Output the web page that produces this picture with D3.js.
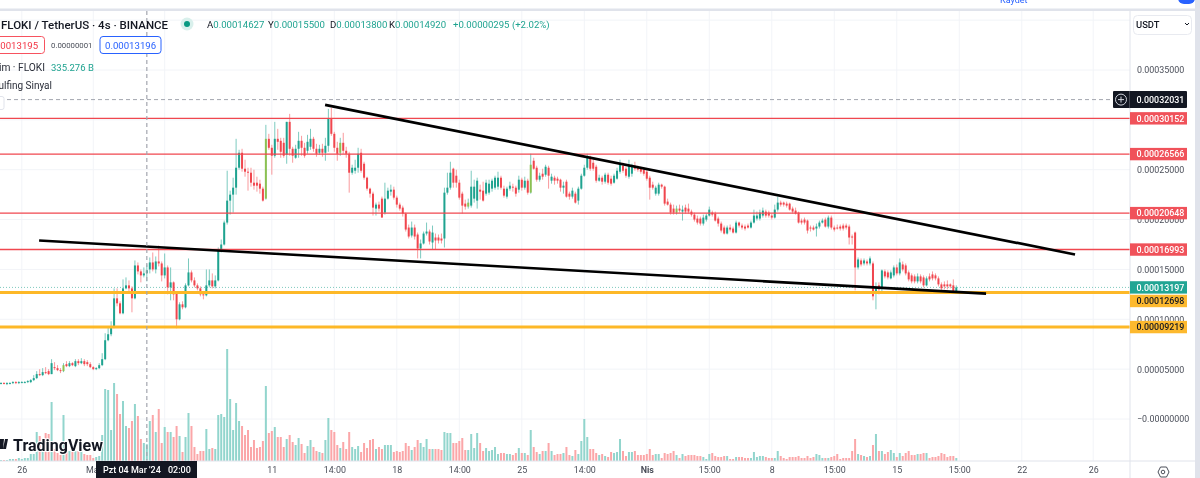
<!DOCTYPE html>
<html>
<head>
<meta charset="utf-8">
<script src="https://cdn.jsdelivr.net/npm/d3@7"></script>
<style>
  html, body { margin: 0; padding: 0; background: #fff; overflow: hidden; }
  svg { display: block; font-family: Roboto, sans-serif; filter: blur(0.3px); }
  .tick text { fill: #4a4e59; font-size: 8.9px; font-family: Roboto, sans-serif; }
  .domain { display: none; }
</style>
</head>
<body>
<script>
// prices are in units of 0.000001, volumes in billions of FLOKI
var opens = [
  36,36,35,36,36,37,36,37,37,37, 37,39,41,45,44,47,48,45,52,51, 49,48,55,53,56,53,58,56,58,57, 55,52,50,51,54,60,79,85,92,121,
  116,106,131,134,131,121,154,148,144,146.27, 150,157,150,158,156,144,152,132,137,126, 100,115,112,134,147,139,134,131,125,124, 134,139,133,139,169,175,197,219,225,232,
  252,267,251,248,247,237,237,236,231,221, 281,272,264,281,279,277,265,298,271,262, 271,279,272,269,273,281,271,267,271,267, 274,301,286,272,267,277,269,266,247,249,
  252,267,256,242,231,226,211,215,221,207, 221,228,230,222,215,212,206,192,184,192, 185,171,176,186,188,177,182,182,181,181, 227,232,251,244,237,226,216,213,214,221,
  219,230,229,226,227,231,232,233,242,231, 223,231,233,232,230,240,232,239,227,259, 252,240,246,245,252,239,242,241,240,232, 238,226,223,226,219,231,244,252,263,257,
  253,239,242,238,245,241,237,241,248,254, 251,243,246,254,252,251,250,248,242,235, 226,226,235,233,218,215,211,207,211,208, 212,211,208,205,201,201,196,200,204,207,
  206,201,196,192,186,192,191,187,197,194, 193,194,192,197,201,201,204,208,207,204, 202,210,217,217,216,216,211,209,207,199, 200,199,192,192,191,193,197,200,193,202,
  192,192,193,194,194,193,183,187,152,159, 156,158,156,156,128,134,132,148,147,141, 144,152,146,155,154,147,144,143,138,143, 142,134,143,145,144,141,135,135,135,135,134,128
]
var closes = [
  36,35,36,36,37,36,37,37,37,38, 39,41,45,44,47,46,45,56,51,49, 48,54,53,56,54,58,56,58,55,55, 52,50,51,54,60,79,85,92,121,116,
  106,131,134,131,121,154,148,144,146,149.2, 157,150,158,156,144,152,132,137,125,100, 115,112,134,147,139,134,131,125,124,134, 139,133,139,169,175,197,219,225,232,252,
  267,251,248,247,237,234,234,231,219,281, 272,264,281,278,268,264,298,271,264,271, 279,272,264,278,281,271,266,271,267,274, 301,286,272,266,277,269,266,247,252,252,
  266,249,242,231,226,212,215,211,202,221, 229,230,222,215,211,206,190,183,192,183, 171,176,186,188,178,187,179,179,179,227, 232,247,237,237,222,214,213,217,233,233,
  239,228,219,237,236,239,242,242,232,224, 231,234,232,226,240,232,239,227,255,251, 240,244,243,253,244,243,239,239,232,234, 223,223,229,217,231,244,252,262,251,251,
  239,242,238,245,237,236,244,249,256,249, 244,254,254,251,250,248,246,241,232,232, 232,235,233,216,215,207,207,211,209,210, 208,208,205,200,197,196,202,204,210,205,
  199,196,189,186,192,190,187,197,194,192, 191,192,197,204,204,207,209,204,204,202, 210,217,215,215,214,210,208,206,197,197, 197,189,191,190,193,197,199,193,202,192,
  190,191,191,191,192,182,182,152,160,155, 159,156,161,123,132,130,149,143,142,147, 152,146,157,150,146,140,138,138,143,138, 134,141,140,141,141,135,131,133,133,133,128,131.97
]
var highs = [
  37,37,37,37,38,38,38,38,38,39, 40,44,48,50,51,52,50,60,57,54, 51,56,58,58,57,60,60,61,60,59, 57,53,52,56,66,86,92,98,131,131,
  118,140,142,139,133,159,157,150,152,155, 162,167,163,174,158,166,154,152,138,127, 117,118,136,161,149,142,136,133,127,150, 150,146,144,172,180,199,249,229,242,281,
  270,271,260,252,252,250,243,240,233,295, 286,275,298,291,282,282,298,306,273,275, 288,284,277,285,291,283,276,275,276,282, 311,312,288,278,282,287,273,268,255,260,
  272,271,258,243,232,228,217,218,223,237, 232,235,233,224,217,214,207,195,198,195, 187,180,188,197,190,194,186,185,186,232, 247,258,252,250,240,228,220,221,249,240,
  242,235,238,240,240,241,244,248,244,234, 233,238,236,234,244,242,243,241,266,262, 254,247,251,255,254,246,244,243,241,238, 240,228,232,228,233,246,255,266,264,262,
  255,245,244,247,247,244,246,252,260,257, 253,260,256,258,254,253,252,250,244,238, 234,237,236,234,221,217,215,214,215,214, 215,216,210,207,204,203,205,206,213,209,
  208,203,198,194,194,195,193,199,198,196, 195,196,199,210,208,210,212,210,209,206, 215,223,219,218,218,217,213,212,208,201, 202,200,194,194,196,199,201,202,204,204,
  194,195,195,196,196,195,185,188,162,161, 161,160,163,158,137,137,150,150,149,149, 154,155,161,158,156,149,146,145,146,145, 144,143,146,148,146,143,137,138,139,136,140,134
]
var lows = [
  35,35,34,35,35,35,35,36,36,36, 36,38,40,43,43,45,44,45,49,48, 46,47,52,52,53,52,54,55,53,53, 51,49,49,50,53,59,78,83,91,113,
  105,105,130,128,107,120,145,137,142,138, 146,148,146,153,138,141,125,119,119,91, 99,110,111,133,137,132,129,123,120,123, 132,131,131,138,167,174,195,205,207,225,
  250,248,243,229,233,230,228,226,218,220, 270,245,262,270,262,262,256,264,257,261, 262,264,262,266,270,268,263,265,263,259, 268,284,268,259,264,266,262,227,245,246,
  247,247,240,229,222,204,204,208,202,205, 220,224,220,212,209,203,188,181,182,180, 161,161,175,184,175,170,170,176,176,172, 225,230,232,232,220,206,210,211,212,217,
  211,220,218,224,225,228,230,230,230,222, 221,229,228,223,227,229,230,225,226,250, 238,238,240,243,231,236,235,236,228,226, 222,220,221,216,215,230,243,250,249,249,
  237,238,235,236,235,234,236,240,246,247, 242,241,243,249,248,246,244,239,220,230, 224,224,231,214,214,205,205,205,207,199, 206,206,203,198,195,194,194,198,203,203,
  198,193,187,185,185,188,186,186,192,190, 189,191,191,196,199,199,202,202,202,200, 201,208,213,213,212,209,206,205,196,195, 195,186,188,189,183,191,196,192,191,190,
  188,190,189,189,190,175,175,129,150,153, 154,154,154,119,110,125,128,141,140,140, 142,144,144,148,144,138,136,136,136,136, 132,133,138,139,139,133,129,130,130,131,127,127
]
var volumes = [
  20,20,20,40,40,40,60,40,60,60, 140,140,580,500,200,560,540,1180,240,160, 120,920,240,200,200,200,200,200,140,120, 120,60,80,100,520,1440,1420,620,1560,1340,
  940,1200,700,660,800,1140,900,440,360,335.276, 800,920,580,1040,360,680,580,580,480,700, 500,180,480,960,700,280,140,200,200,640, 240,260,240,920,940,880,2240,1240,620,1160,
  800,700,520,620,280,420,260,280,400,1500, 560,600,680,480,480,280,440,520,380,320, 460,340,160,300,420,280,200,180,160,420, 860,620,580,320,260,380,240,580,280,240,
  300,180,360,260,420,440,240,280,240,320, 320,320,180,200,180,200,360,300,220,280, 420,360,280,440,240,240,240,240,220,580, 560,560,360,360,400,460,220,220,540,260,
  560,360,200,260,200,220,280,140,160,160, 140,140,120,160,260,160,160,120,620,280, 180,140,200,200,360,200,120,140,140,160, 280,120,100,220,140,400,840,480,240,240,
  160,120,140,100,80,180,160,180,440,200, 100,180,180,200,120,120,120,140,240,120, 140,140,60,160,140,160,200,120,60,140, 100,120,120,120,100,100,80,40,140,160,
  100,80,80,100,100,40,40,80,80,80, 60,60,60,180,80,100,100,80,60,60, 60,200,100,60,40,80,80,80,100,60, 60,100,60,80,140,120,60,60,60,80,
  100,140,40,60,60,60,200,440,140,120, 100,80,100,320,540,200,200,140,180,220, 160,80,160,100,160,200,120,120,140,140, 160,160,60,80,80,100,160,140,80,100,100,60
]
var signalBars = [21, 89, 114, 157, 178, 227]

var priceTicks = [350, 300, 250, 200, 150, 100, 50, 0]
var gridPrices = [400, 350, 300, 250, 200, 150, 100, 50, 0]
var timeTicks = [7, 31, 55, 91, 112, 133, 154, 175, 196, 217, 238, 259, 280, 301, 322, 343, 367]
var timeLabels = ['26', 'Mar', '7', '11', '14:00', '18', '14:00', '25', '14:00', 'Nis', '15:00', '8', '15:00', '15', '15:00', '22', '26']

var redLevels = [301.52, 265.66, 206.48, 169.93]
var orangeLevels = [126.98, 92.19]
var lastPrice = 131.97
var crosshairBar = 49
var crosshairPrice = 320.31
var upperTrend = [[108.9, 315], [360.9, 165]]
var lowerTrend = [[12.8, 179], [331, 125.7]]

var teal = '#1fa390', red = '#f0464e', lime = '#8cc152', orange = '#fdb827', ink = '#131722'
var W = 1200, H = 478, paneRight = 1130, paneTop = 11, paneBottom = 461

var x = d3.scaleLinear().domain([0, 321]).range([1, 956.3])
var y = d3.scaleLinear().domain([0, 350]).range([419, 70])
var v = d3.scaleLinear().domain([0, 2240]).range([paneBottom, paneBottom - 112])

var svg = d3.select('body').append('svg').attr('width', W).attr('height', H)
svg.append('defs').append('clipPath').attr('id', 'pane')
  .append('rect').attr('x', 0).attr('y', paneTop).attr('width', paneRight).attr('height', paneBottom - paneTop)

function txt(parent, px, py, str, size, color, weight) {
  return parent.append('text').attr('x', px).attr('y', py).text(str)
    .attr('font-size', size).attr('fill', color).attr('font-weight', weight || 400)
}

// top toolbar, mostly cut off
svg.append('rect').attr('x', 0).attr('y', 8.5).attr('width', W).attr('height', 2.5).attr('fill', '#e0e3eb')
svg.append('rect').attr('x', W - 5).attr('y', 0).attr('width', 5).attr('height', H).attr('fill', '#e0e3eb')
svg.append('rect').attr('x', 1178).attr('y', -8).attr('width', 17).attr('height', 12).attr('rx', 6).attr('fill', '#2962ff')
txt(svg, 1000, 3, 'Kaydet', 9, '#2962ff')

var pane = svg.append('g').attr('clip-path', 'url(#pane)')

// grid
pane.append('g').selectAll('line').data(gridPrices).enter().append('line')
  .attr('x1', 0).attr('x2', paneRight)
  .attr('y1', function (d) { return y(d) }).attr('y2', function (d) { return y(d) })
  .attr('stroke', '#f2f4f8')
pane.append('g').selectAll('line').data(timeTicks).enter().append('line')
  .attr('y1', paneTop).attr('y2', paneBottom)
  .attr('x1', function (d) { return x(d) }).attr('x2', function (d) { return x(d) })
  .attr('stroke', '#f2f4f8')

var bars = closes.map(function (c, i) {
  return { i: i, o: opens[i], c: c, h: highs[i], l: lows[i], vol: volumes[i], up: c >= opens[i] }
})

// volume
pane.append('g').selectAll('rect').data(bars).enter().append('rect')
  .attr('x', function (d) { return x(d.i) - 1 })
  .attr('width', 2)
  .attr('y', function (d) { return v(d.vol) })
  .attr('height', function (d) { return paneBottom - v(d.vol) })
  .attr('fill', function (d) { return d.up ? '#92d5cd' : '#fba6a8' })

// last price dotted line
pane.append('line').attr('x1', 0).attr('x2', paneRight).attr('y1', y(lastPrice)).attr('y2', y(lastPrice))
  .attr('stroke', '#7fcabf').attr('stroke-dasharray', '1 2')

// candles
pane.append('g').selectAll('line').data(bars).enter().append('line')
  .attr('x1', function (d) { return x(d.i) }).attr('x2', function (d) { return x(d.i) })
  .attr('y1', function (d) { return y(d.h) }).attr('y2', function (d) { return y(d.l) })
  .attr('stroke', function (d) { return d.up ? '#7ccabf' : '#f99a9d' })
pane.append('g').selectAll('rect').data(bars).enter().append('rect')
  .attr('x', function (d) { return x(d.i) - 1 })
  .attr('width', 2)
  .attr('y', function (d) { return y(Math.max(d.o, d.c)) })
  .attr('height', function (d) { return Math.max(1, Math.abs(y(d.o) - y(d.c))) })
  .attr('fill', function (d) {
    if (signalBars.indexOf(d.i) !== -1) return lime
    return d.up ? teal : red
  })

// horizontal levels
pane.append('g').selectAll('line').data(redLevels).enter().append('line')
  .attr('x1', 0).attr('x2', paneRight)
  .attr('y1', function (d) { return y(d) }).attr('y2', function (d) { return y(d) })
  .attr('stroke', '#f0474f').attr('stroke-width', 1.4)
pane.append('g').selectAll('line').data(orangeLevels).enter().append('line')
  .attr('x1', 0).attr('x2', paneRight)
  .attr('y1', function (d) { return y(d) }).attr('y2', function (d) { return y(d) })
  .attr('stroke', orange).attr('stroke-width', 3)

// trend lines
var trend = d3.line().x(function (d) { return x(d[0]) }).y(function (d) { return y(d[1]) })
pane.selectAll('path.trend').data([upperTrend, lowerTrend]).enter().append('path')
  .attr('class', 'trend').attr('d', trend).attr('fill', 'none')
  .attr('stroke', '#000').attr('stroke-width', 2.7)

// crosshair
pane.append('line').attr('x1', x(crosshairBar)).attr('x2', x(crosshairBar)).attr('y1', paneTop).attr('y2', paneBottom)
  .attr('stroke', '#a3a6af').attr('stroke-dasharray', '4 3').attr('stroke-width', 1.2)
pane.append('line').attr('x1', 0).attr('x2', 1113).attr('y1', y(crosshairPrice)).attr('y2', y(crosshairPrice))
  .attr('stroke', '#a3a6af').attr('stroke-dasharray', '4 3')

// watermark
txt(svg, 13, 451, 'TradingView', 16, ink, 700)
  .attr('stroke', '#fff').attr('stroke-width', 2).attr('paint-order', 'stroke')
svg.append('path').attr('d', 'M0 439h4l-1 10h-3z M5 439h3l-2 10h-3z').attr('fill', ink)

// axes
svg.append('line').attr('x1', paneRight).attr('x2', paneRight).attr('y1', paneTop).attr('y2', H).attr('stroke', '#e0e3eb')
svg.append('line').attr('x1', 0).attr('x2', W - 5).attr('y1', paneBottom).attr('y2', paneBottom).attr('stroke', '#e0e3eb')

var yAxis = d3.axisRight(y).tickValues(priceTicks).tickSize(0).tickPadding(7)
  .tickFormat(function (d) {
    return d === 0 ? '\u22120.00000000' : (d / 1e6).toFixed(8)
  })
svg.append('g').attr('transform', 'translate(' + paneRight + ',0)').call(yAxis)

var xAxis = d3.axisBottom(x).tickValues(timeTicks).tickSize(0).tickPadding(6)
  .tickFormat(function (d, i) { return timeLabels[i] })
svg.append('g').attr('transform', 'translate(0,' + paneBottom + ')').call(xAxis)
  .selectAll('text').attr('font-weight', function (d, i) { return timeLabels[i] === 'Nis' ? 700 : 400 })

// price tags, pushed apart where they would collide
function tag(price, fill, color, shift) {
  var py = y(price) + (shift || 0)
  svg.append('rect').attr('x', paneRight).attr('y', py - 6.2).attr('width', 57).attr('height', 12.4).attr('fill', fill)
  txt(svg, paneRight + 6.5, py + 3.2, (price / 1e6).toFixed(8), 8.9, color, 500)
}
redLevels.forEach(function (d) { tag(d, '#f0525a', '#fff') })
tag(lastPrice, '#22a594', '#fff')
tag(orangeLevels[0], '#fdb92e', ink, 8.6)
tag(orangeLevels[1], '#fdb92e', ink)

// crosshair tags
var cy = y(crosshairPrice)
svg.append('rect').attr('x', 1113).attr('y', cy - 8.5).attr('width', 74).attr('height', 17).attr('rx', 1).attr('fill', ink)
svg.append('line').attr('x1', 1129.5).attr('x2', 1129.5).attr('y1', cy - 8.5).attr('y2', cy + 8.5).attr('stroke', '#434651')
svg.append('circle').attr('cx', 1121).attr('cy', cy).attr('r', 5.5).attr('fill', 'none').attr('stroke', '#d1d4dc')
svg.append('path').attr('d', 'M1121 ' + (cy - 3) + 'v6M1118 ' + cy + 'h6').attr('stroke', '#d1d4dc')
txt(svg, paneRight + 6.5, cy + 3.2, (crosshairPrice / 1e6).toFixed(8), 8.9, '#fff', 500)

svg.append('rect').attr('x', 96).attr('y', paneBottom).attr('width', 101).attr('height', 17).attr('fill', ink)
txt(svg, 103, 473, "Pzt 04 Mar '24", 9, '#fff', 500)
txt(svg, 168, 473, '02:00', 9, '#fff', 500)

// currency box
svg.append('rect').attr('x', 1133.5).attr('y', 15.5).attr('width', 58).attr('height', 19).attr('rx', 4)
  .attr('fill', '#fff').attr('stroke', '#e8eaf0')
txt(svg, 1136, 27.5, 'USDT', 9.4, ink, 500)
svg.append('path').attr('d', 'M1185 23l2 2 2-2').attr('fill', 'none').attr('stroke', ink)

// settings icon
svg.append('path').attr('d', 'M1158 472l2.5-5h6l2.5 5-2.5 5h-6z').attr('fill', 'none').attr('stroke', '#4a4e59')
svg.append('circle').attr('cx', 1163).attr('cy', 472).attr('r', 1.8).attr('fill', 'none').attr('stroke', '#4a4e59')

// legend
txt(svg, 1, 28.5, 'FLOKI / TetherUS \u00b7 4s \u00b7 BINANCE', 11.5, ink, 500)
svg.append('circle').attr('cx', 187).attr('cy', 24).attr('r', 6.5).attr('fill', '#d9f0ec')
svg.append('circle').attr('cx', 187).attr('cy', 24).attr('r', 3).attr('fill', '#089981')

var ohlcLabels = ['A', 'Y', 'D', 'K']
var ohlcValues = ['0.00014627', '0.00015500', '0.00013800', '0.00014920']
var ohlcX = [207, 268, 330, 389]
ohlcLabels.forEach(function (d, i) {
  var t = txt(svg, ohlcX[i], 28, d, 9.6, ink)
  t.append('tspan').attr('fill', teal).text(ohlcValues[i])
})
txt(svg, 453, 28, '+0.00000295 (+2.02%)', 9.6, teal)

svg.append('rect').attr('x', -6).attr('y', 36.5).attr('width', 50.5).attr('height', 17).attr('rx', 3)
  .attr('fill', '#fff').attr('stroke', '#f7525f')
txt(svg, -13, 48.5, '0.00013195', 9.6, '#f23645')
txt(svg, 51, 48, '0.00000001', 7.8, '#4a4e59')
svg.append('rect').attr('x', 100).attr('y', 36.5).attr('width', 61).attr('height', 17).attr('rx', 3)
  .attr('fill', '#fff').attr('stroke', '#2962ff')
txt(svg, 105, 48.5, '0.00013196', 9.6, '#2962ff')

txt(svg, 45, 71, 'Hacim \u00b7 FLOKI', 10.2, '#2a2e39').attr('text-anchor', 'end')
txt(svg, 51, 71, '335.276 B', 9.5, teal)
txt(svg, 52, 89, 'Yutan Bulfing Sinyal', 10, '#2a2e39').attr('text-anchor', 'end')
svg.append('rect').attr('x', -8).attr('y', 96.5).attr('width', 12).attr('height', 13).attr('rx', 2)
  .attr('fill', '#fff').attr('stroke', '#e0e3eb')
</script>
</body>
</html>
